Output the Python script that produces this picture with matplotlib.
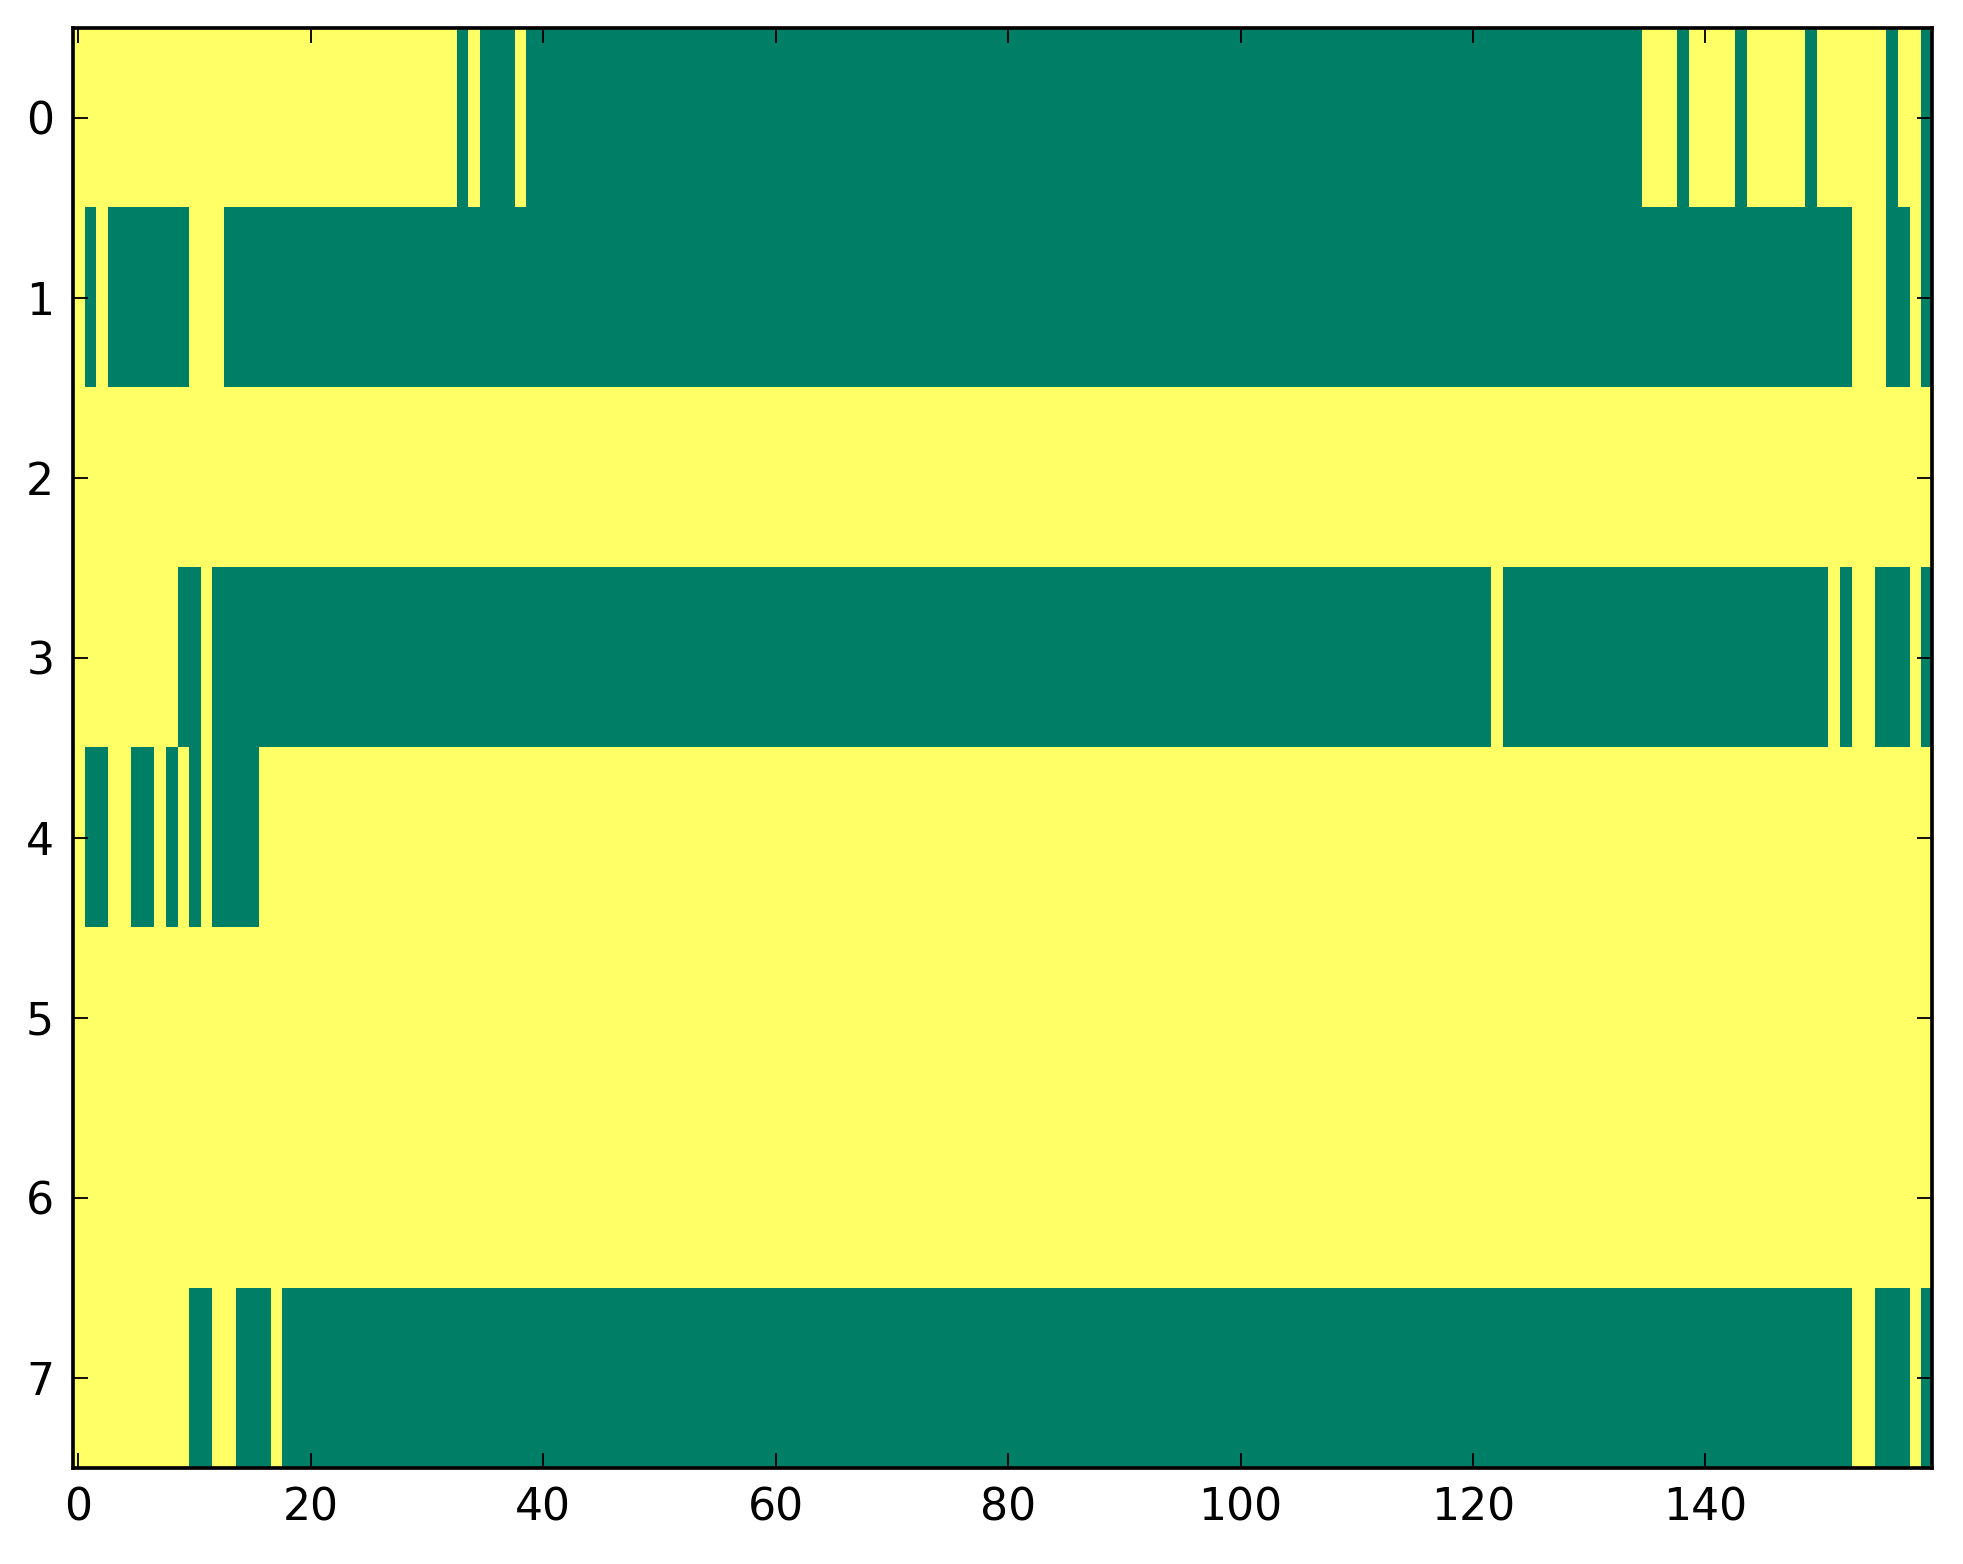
import numpy as np
import matplotlib
matplotlib.use("Agg")
import matplotlib.pyplot as plt

# Run-length encoded rows: (value, count); 1 = yellow, 0 = green
row0 = [(1, 33), (0, 1), (1, 1), (0, 3), (1, 1), (0, 96), (1, 3), (0, 1), (1, 4),
        (0, 1), (1, 5), (0, 1), (1, 6), (0, 1), (1, 2), (0, 1)]
row1 = [(1, 1), (0, 1), (1, 1), (0, 7), (1, 3), (0, 140), (1, 3), (0, 2), (1, 1), (0, 1)]
row2 = [(1, 160)]
row3 = [(1, 9), (0, 2), (1, 1), (0, 110), (1, 1), (0, 28), (1, 1), (0, 1), (1, 2),
        (0, 3), (1, 1), (0, 1)]
row4 = [(1, 1), (0, 2), (1, 2), (0, 2), (1, 1), (0, 1), (1, 1), (0, 1), (1, 1),
        (0, 4), (1, 144)]
row5 = [(1, 160)]
row6 = [(1, 160)]
row7 = [(1, 10), (0, 2), (1, 2), (0, 3), (1, 1), (0, 135), (1, 2), (0, 3), (1, 1), (0, 1)]

rows = [row0, row1, row2, row3, row4, row5, row6, row7]
x_ticks = [0, 20, 40, 60, 80, 100, 120, 140]
y_ticks = [0, 1, 2, 3, 4, 5, 6, 7]


def expand(runs):
    out = []
    for v, n in runs:
        out.extend([v] * n)
    return out


matrix = np.array([expand(r) for r in rows], dtype=float)

dpi = 265
fig = plt.figure(figsize=(1963 / dpi, 1564 / dpi), dpi=dpi, facecolor="white")
ax = fig.add_axes([72.6 / 1963, 1 - 1468 / 1564, (1932 - 72.6) / 1963, (1468 - 27.5) / 1564])
ax.imshow(matrix, cmap="summer", aspect="auto", interpolation="nearest", vmin=0, vmax=1)

ax.set_xticks(x_ticks)
ax.set_yticks(y_ticks)
ax.tick_params(direction="in", length=4, width=0.5, top=True, right=True,
               labelsize=12, pad=5, colors="black")
for s in ax.spines.values():
    s.set_linewidth(1.0)
    s.set_color("black")

fig.savefig("out.png", dpi=dpi, facecolor="white")
